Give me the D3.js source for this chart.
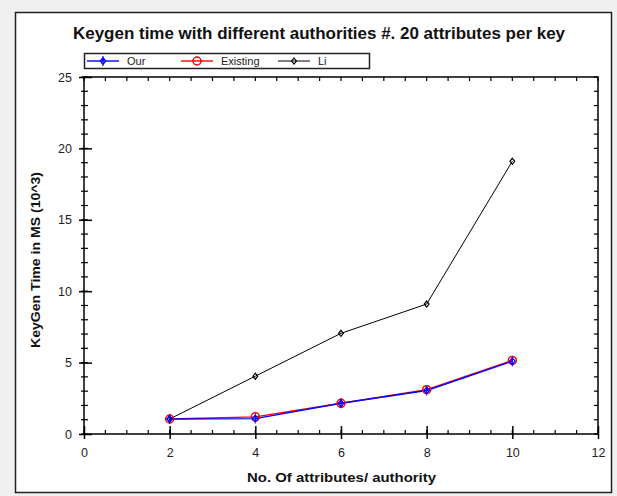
<!DOCTYPE html>
<html>
<head>
<meta charset="utf-8">
<script src="https://cdn.jsdelivr.net/npm/d3@7"></script>
<style>
  body { margin: 0; background: #f0f0f0; font-family: Arial, "Liberation Sans", sans-serif; }
</style>
</head>
<body>
<div id="chart"></div>
<script>
// data
var authorities = [2, 4, 6, 8, 10];
var ourTime = [1.05, 1.08, 2.15, 3.05, 5.1];
var existingTime = [1.05, 1.2, 2.15, 3.1, 5.15];
var liTime = [1.05, 4.05, 7.05, 9.1, 19.1];
var seriesNames = ["Our", "Existing", "Li"];
var seriesColors = ["#0000ff", "#ff0000", "#000000"];
var xTicks = [0, 2, 4, 6, 8, 10, 12];
var yTicks = [0, 5, 10, 15, 20, 25];

var svgWidth = 617, svgHeight = 496;
var margin = { top: 77, right: 19, bottom: 62, left: 84 };
var chartWidth = svgWidth - margin.left - margin.right;
var chartHeight = svgHeight - margin.top - margin.bottom;

var svg = d3.select("#chart").append("svg")
    .attr("width", svgWidth)
    .attr("height", svgHeight);

// white panel with border
svg.append("rect")
    .attr("x", 15.5).attr("y", 12.5)
    .attr("width", 596).attr("height", 480)
    .attr("fill", "#fff")
    .attr("stroke", "#222")
    .attr("stroke-width", 1.5);

svg.append("text")
    .attr("x", 73).attr("y", 39)
    .attr("font-size", 16).attr("font-weight", "bold")
    .attr("textLength", 492).attr("lengthAdjust", "spacingAndGlyphs")
    .attr("fill", "#111")
    .text("Keygen time with different authorities #. 20 attributes per key");

var g = svg.append("g")
    .attr("transform", `translate(${margin.left}, ${margin.top})`);

var x = d3.scaleLinear().domain([0, 12]).range([0, chartWidth]);
var y = d3.scaleLinear().domain([0, 25]).range([chartHeight, 0]);

// frame
g.append("rect")
    .attr("width", chartWidth).attr("height", chartHeight)
    .attr("fill", "none").attr("stroke", "#000").attr("stroke-width", 1.5);

var xMinor = d3.range(0, 12.01, 0.5);
var yMinor = d3.range(0, 25.01, 1);

// minor ticks on all four sides (inside)
xMinor.forEach(function(v) {
    g.append("line").attr("x1", x(v)).attr("x2", x(v))
        .attr("y1", chartHeight).attr("y2", chartHeight - 4)
        .attr("stroke", "#000").attr("stroke-width", 1.2);
    g.append("line").attr("x1", x(v)).attr("x2", x(v))
        .attr("y1", 0).attr("y2", 4)
        .attr("stroke", "#000").attr("stroke-width", 1.2);
});
yMinor.forEach(function(v) {
    g.append("line").attr("x1", -3).attr("x2", 4)
        .attr("y1", y(v)).attr("y2", y(v))
        .attr("stroke", "#000").attr("stroke-width", 1.2);
    g.append("line").attr("x1", chartWidth - 4).attr("x2", chartWidth)
        .attr("y1", y(v)).attr("y2", y(v))
        .attr("stroke", "#000").attr("stroke-width", 1.2);
});

// major axes
var bottomAxis = d3.axisBottom(x).tickValues(xTicks).tickSizeInner(-8).tickSizeOuter(0).tickPadding(14);
var leftAxis = d3.axisLeft(y).tickValues(yTicks).tickSizeInner(-8).tickSizeOuter(0).tickPadding(12);

var xg = g.append("g").attr("transform", `translate(0, ${chartHeight})`).call(bottomAxis);
var yg = g.append("g").call(leftAxis);
[xg, yg].forEach(function(a) {
    a.select(".domain").remove();
    a.selectAll("line").attr("stroke", "#000").attr("stroke-width", 1.5);
    a.selectAll("text").attr("font-size", 12.5).attr("fill", "#222")
        .attr("font-family", "Arial, Liberation Sans, sans-serif");
});
xg.selectAll(".tick line").attr("y1", 5);
yg.selectAll(".tick line").attr("x1", -5);

// axis titles
svg.append("text")
    .attr("x", 247).attr("y", 482)
    .attr("font-size", 13).attr("font-weight", "bold").attr("fill", "#111")
    .attr("textLength", 189).attr("lengthAdjust", "spacingAndGlyphs")
    .text("No. Of attributes/ authority");

svg.append("text")
    .attr("transform", "translate(40, 348) rotate(-90)")
    .attr("font-size", 12.5).attr("font-weight", "bold").attr("fill", "#111")
    .attr("textLength", 176).attr("lengthAdjust", "spacingAndGlyphs")
    .text("KeyGen Time in MS (10^3)");

// series
var series = [ourTime, existingTime, liTime];
var line = d3.line().x(function(d, i) { return x(authorities[i]); }).y(function(d) { return y(d); });

function drawMarker(sel, k, cx, cy) {
    if (k === 1) {
        sel.append("circle").attr("cx", cx).attr("cy", cy).attr("r", 4)
            .attr("fill", "none").attr("stroke", seriesColors[k]).attr("stroke-width", 1.5);
    } else {
        var s = k === 0 ? 3.5 : 3;
        sel.append("path")
            .attr("d", `M${cx},${cy - s}L${cx + s * 0.8},${cy}L${cx},${cy + s}L${cx - s * 0.8},${cy}Z` +
                (k === 0 ? `M${cx},${cy - s - 1.5}L${cx},${cy + s + 1.5}` : ""))
            .attr("fill", "none").attr("stroke", seriesColors[k]).attr("stroke-width", 1.2);
    }
}

[2, 1, 0].forEach(function(k) {
    g.append("path").datum(series[k])
        .attr("d", line)
        .attr("fill", "none")
        .attr("stroke", seriesColors[k])
        .attr("stroke-width", k === 2 ? 1 : 1.4);
});
[2, 1, 0].forEach(function(k) {
    series[k].forEach(function(d, i) {
        drawMarker(g, k, x(authorities[i]), y(d));
    });
});

// legend
var legend = svg.append("g");
legend.append("rect")
    .attr("x", 84.5).attr("y", 53.5).attr("width", 285).attr("height", 15)
    .attr("fill", "#fff").attr("stroke", "#222").attr("stroke-width", 1.5);
var legendX = [87, 181, 278];
seriesNames.forEach(function(name, k) {
    var lx = legendX[k];
    legend.append("line").attr("x1", lx).attr("x2", lx + 32)
        .attr("y1", 61).attr("y2", 61)
        .attr("stroke", seriesColors[k]).attr("stroke-width", k === 2 ? 1 : 1.4);
    drawMarker(legend, k, lx + 16, 61);
    legend.append("text")
        .attr("x", lx + 40).attr("y", 65)
        .attr("font-size", 11)
        .attr("font-family", "Liberation Sans Narrow, Arial Narrow, sans-serif")
        .attr("fill", "#222")
        .text(name);
});
</script>
</body>
</html>
